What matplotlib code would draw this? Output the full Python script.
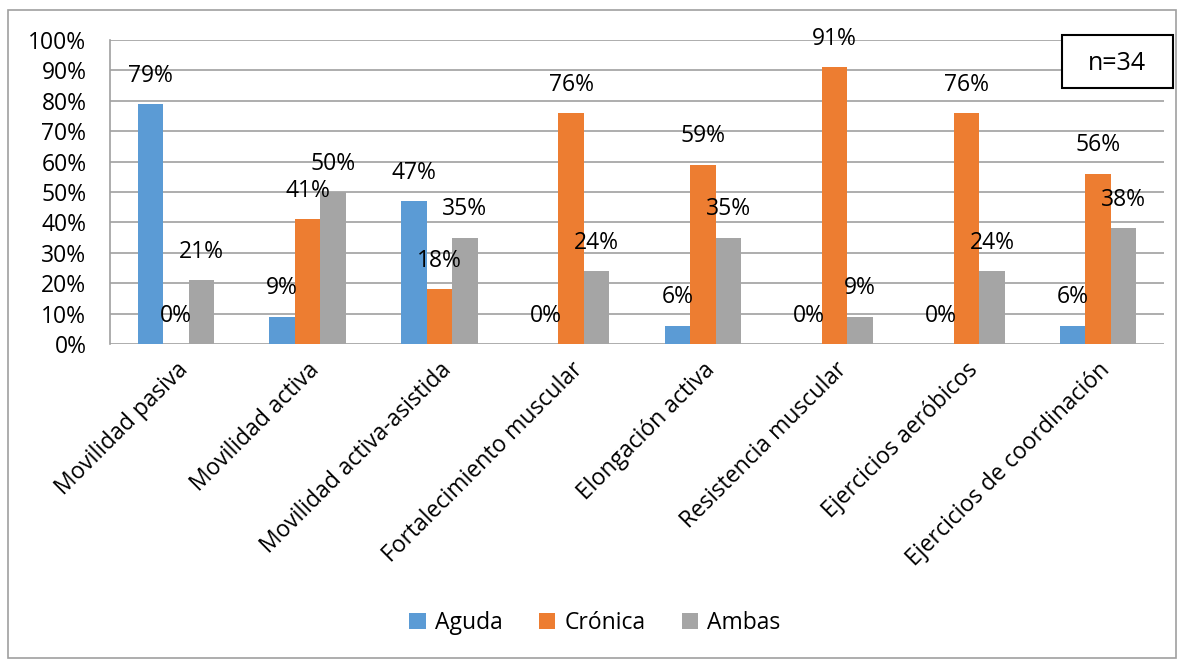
import matplotlib
matplotlib.use("Agg")
import matplotlib.pyplot as plt
import numpy as np
from matplotlib.patches import Rectangle
from matplotlib.ticker import PercentFormatter

categories = ["Movilidad pasiva", "Movilidad activa", "Movilidad activa-asistida",
              "Fortalecimiento muscular", "Elongación activa", "Resistencia muscular",
              "Ejercicios aeróbicos", "Ejercicios de coordinación"]
series_names = ["Aguda", "Crónica", "Ambas"]
aguda   = [79, 9, 47, 0, 6, 0, 0, 6]
cronica = [0, 41, 18, 76, 59, 91, 76, 56]
ambas   = [21, 50, 35, 24, 35, 9, 24, 38]
colors  = ["#5B9BD5", "#ED7D31", "#A5A5A5"]

plt.rcParams["font.family"] = ["Open Sans", "DejaVu Sans"]
FS = 16.5

fig = plt.figure(figsize=(11.84, 6.61), dpi=100)
ax = fig.add_axes([110 / 1184, 1 - 344 / 661, (1164 - 110) / 1184, (344 - 40) / 661])

x = np.arange(len(categories))
w = 0.194
for i, (vals, name) in enumerate(zip([aguda, cronica, ambas], series_names)):
    xs = x + (i - 1) * w
    ax.bar(xs, vals, width=w, color=colors[i], label=name, zorder=2)
    for xi, v in zip(xs, vals):
        ax.text(xi, v + 9.3, f"{v}%", ha="center", va="center", fontsize=FS, zorder=3)

ax.set_xlim(-0.5, len(categories) - 0.5)
ax.set_ylim(0, 100)
ax.set_yticks(range(0, 101, 10))
ax.yaxis.set_major_formatter(PercentFormatter(decimals=0))
ax.grid(axis="y", color="#A0A0A0", linewidth=1.2, zorder=0)
ax.set_axisbelow(True)
for s in ["top", "right", "bottom"]:
    ax.spines[s].set_visible(False)
ax.spines["left"].set_color("#A0A0A0")
ax.spines["left"].set_linewidth(1.2)
ax.tick_params(axis="both", length=0, labelsize=FS)
ax.tick_params(axis="y", pad=17)
ax.set_xticks(x)
ax.set_xticklabels(categories, rotation=45, ha="right", rotation_mode="anchor")
ax.tick_params(axis="x", pad=10)

leg = fig.legend(loc="center", bbox_to_anchor=(595 / 1184, 1 - 623 / 661), ncol=3,
                 frameon=False, fontsize=FS, handlelength=0.7, handleheight=0.7,
                 columnspacing=1.6, handletextpad=0.4)

# outer chart border
fig.patches.append(Rectangle((8 / 1184, 3 / 661), 1168 / 1184, 648 / 661,
                             transform=fig.transFigure, fill=False,
                             edgecolor="#A0A0A0", linewidth=1.2))
# n=34 box
fig.patches.append(Rectangle((1062 / 1184, 1 - 88 / 661), 111 / 1184, 53 / 661,
                             transform=fig.transFigure, facecolor="white",
                             edgecolor="black", linewidth=1.5, zorder=5))
fig.text(1117 / 1184, 1 - 63 / 661, "n=34", ha="center", va="center", fontsize=FS + 1.5, zorder=6)

fig.savefig("out.png", dpi=100)
